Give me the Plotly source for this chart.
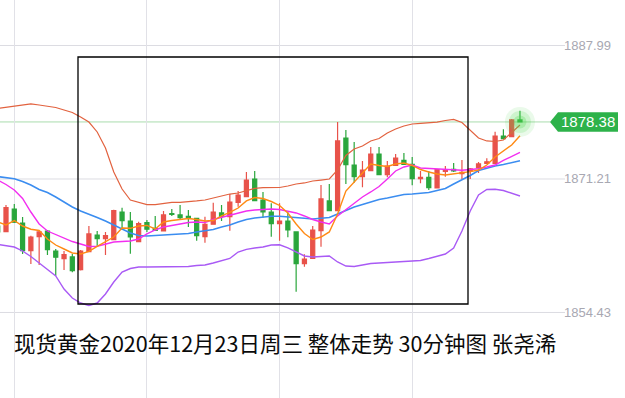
import plotly.graph_objects as go

# ---------------- data (30-minute candles) ----------------
idx = list(range(-1, 63))

opens = [1865.30, 1864.59, 1867.44, 1865.68, 1862.20, 1863.96, 1864.67, 1862.16, 1861.19, 1861.41,
         1859.81, 1862.07, 1864.17, 1863.71, 1863.58, 1867.06, 1865.93, 1863.33, 1865.72, 1864.99,
         1864.67, 1866.87, 1866.69, 1866.52, 1866.27, 1863.96, 1865.52, 1866.94, 1866.47, 1868.28,
         1868.99, 1871.21, 1868.57, 1867.06, 1865.59, 1865.93, 1864.55, 1860.56, 1861.24, 1864.71,
         1868.45, 1867.23, 1876.36, 1872.97, 1871.50, 1872.25, 1874.35, 1871.75, 1872.93, 1873.56,
         1873.06, 1871.25, 1871.42, 1870.08, 1872.18, 1872.43, 1871.88, 1872.22, 1872.59, 1873.18,
         1873.18, 1876.61, 1876.53, 1878.63]
highs = [1865.80, 1867.94, 1868.07, 1866.43, 1864.08, 1864.67, 1864.80, 1862.41, 1862.16, 1861.78,
         1862.29, 1865.30, 1864.67, 1864.55, 1867.35, 1867.60, 1867.06, 1865.84, 1866.06, 1866.56,
         1867.19, 1867.44, 1867.94, 1867.31, 1866.31, 1866.47, 1868.23, 1867.94, 1869.32, 1869.70,
         1872.09, 1872.22, 1869.58, 1868.16, 1868.16, 1867.02, 1864.61, 1861.75, 1865.30, 1870.46,
         1870.58, 1878.37, 1877.37, 1875.86, 1873.47, 1875.23, 1875.23, 1873.47, 1874.35, 1874.48,
         1873.98, 1872.22, 1872.22, 1872.40, 1872.84, 1873.22, 1873.60, 1872.59, 1873.35, 1873.81,
         1877.16, 1877.46, 1878.75, 1879.80]
lows = [1864.17, 1864.55, 1865.68, 1861.78, 1860.53, 1860.40, 1861.66, 1859.06, 1859.77, 1859.48,
        1859.71, 1862.03, 1862.70, 1861.66, 1863.54, 1864.80, 1861.82, 1863.29, 1864.55, 1864.67,
        1864.61, 1866.56, 1866.06, 1865.18, 1863.45, 1863.20, 1865.49, 1865.93, 1864.71, 1867.73,
        1868.95, 1868.44, 1866.35, 1863.96, 1863.45, 1863.88, 1857.04, 1860.19, 1861.22, 1862.70,
        1867.19, 1867.19, 1870.58, 1870.75, 1870.17, 1872.22, 1871.71, 1871.42, 1872.91, 1873.03,
        1870.42, 1870.67, 1869.83, 1870.02, 1871.50, 1872.09, 1871.21, 1871.21, 1871.96, 1873.16,
        1873.16, 1876.24, 1876.49, 1878.31]
closes = [1864.55, 1867.60, 1865.77, 1862.20, 1863.92, 1864.55, 1862.32, 1861.37, 1861.70, 1859.68,
          1862.16, 1864.30, 1863.71, 1864.08, 1867.23, 1865.97, 1863.92, 1865.59, 1864.89, 1864.74,
          1866.69, 1866.75, 1866.35, 1866.35, 1864.08, 1865.52, 1867.06, 1866.52, 1868.32, 1869.20,
          1871.08, 1868.48, 1867.06, 1865.59, 1865.93, 1864.80, 1860.56, 1861.15, 1864.80, 1868.70,
          1867.23, 1875.99, 1873.01, 1871.50, 1872.34, 1874.35, 1871.75, 1872.84, 1873.85, 1873.06,
          1871.25, 1871.42, 1870.12, 1872.38, 1872.38, 1872.22, 1872.05, 1872.47, 1873.10, 1873.38,
          1876.61, 1876.28, 1878.63, 1878.38]

boll_upper = [1880.07, 1880.21, 1880.39, 1880.51, 1880.64, 1880.51, 1880.39, 1880.20, 1879.88, 1879.57,
              1879.00, 1878.37, 1877.12, 1875.11, 1872.09, 1869.95, 1868.57, 1868.26, 1868.00, 1868.00,
              1868.13, 1868.26, 1868.28, 1868.32, 1868.45, 1868.57, 1868.82, 1869.07, 1869.32, 1869.45,
              1869.70, 1870.02, 1870.12, 1870.14, 1870.14, 1870.33, 1870.58, 1870.71, 1870.96, 1871.08,
              1871.21, 1872.34, 1874.16, 1874.98, 1875.36, 1875.99, 1876.30, 1876.99, 1877.49, 1877.87,
              1878.12, 1878.19, 1878.25, 1878.37, 1878.56, 1878.71, 1878.31, 1877.37, 1876.36, 1875.99,
              1875.92, 1876.11, 1877.12, 1878.00]
boll_mid = [1871.52, 1871.40, 1871.24, 1870.90, 1870.46, 1869.89, 1869.51, 1868.95, 1868.32, 1867.69,
            1867.19, 1866.81, 1866.37, 1865.93, 1865.43, 1864.93, 1864.42, 1864.11, 1864.05, 1864.11,
            1864.17, 1864.17, 1864.23, 1864.36, 1864.55, 1864.74, 1864.86, 1865.18, 1865.43, 1865.80,
            1866.12, 1866.31, 1866.43, 1866.53, 1866.52, 1866.46, 1866.37, 1866.27, 1866.18, 1866.24,
            1866.37, 1866.81, 1867.25, 1867.69, 1868.00, 1868.32, 1868.63, 1868.82, 1869.01, 1869.26,
            1869.32, 1869.39, 1869.51, 1869.76, 1870.02, 1870.58, 1871.08, 1871.65, 1872.28, 1872.59,
            1872.84, 1873.03, 1873.28, 1873.51]
boll_lower = [1862.98, 1862.85, 1862.66, 1862.16, 1861.47, 1860.65, 1859.83, 1859.02, 1857.38, 1856.25,
              1855.62, 1855.31, 1855.62, 1856.76, 1858.26, 1859.52, 1859.96, 1860.15, 1860.15, 1860.15,
              1860.15, 1860.19, 1860.19, 1860.21, 1860.34, 1860.40, 1860.65, 1860.90, 1861.22, 1862.03,
              1862.37, 1862.54, 1862.66, 1862.91, 1862.94, 1862.54, 1862.03, 1861.53, 1861.41, 1861.47,
              1861.53, 1860.78, 1860.27, 1860.21, 1860.40, 1860.59, 1860.65, 1860.71, 1860.74, 1860.78,
              1860.82, 1860.97, 1861.22, 1861.53, 1861.78, 1862.54, 1864.67, 1867.19, 1869.20, 1869.89,
              1869.92, 1869.76, 1869.39, 1869.07]
ma_short = [1865.80, 1865.43, 1865.99, 1865.30, 1864.89, 1864.74, 1863.67, 1862.91, 1862.41, 1861.91,
            1861.78, 1862.10, 1862.73, 1863.29, 1863.92, 1865.05, 1865.01, 1865.30, 1865.37, 1864.93,
            1865.80, 1865.99, 1866.12, 1866.24, 1866.12, 1865.93, 1865.99, 1866.56, 1867.00, 1867.56,
            1868.45, 1868.88, 1868.76, 1868.38, 1867.88, 1866.94, 1865.55, 1864.36, 1863.61, 1863.92,
            1864.55, 1866.81, 1869.70, 1870.83, 1872.09, 1873.10, 1872.91, 1872.78, 1873.10, 1873.22,
            1872.91, 1872.40, 1872.09, 1871.84, 1871.71, 1871.84, 1871.93, 1872.13, 1872.34, 1872.97,
            1873.98, 1874.73, 1875.48, 1876.65]
ma_long = [1871.08, 1870.52, 1869.83, 1868.76, 1867.06, 1865.55, 1864.67, 1864.23, 1863.79, 1863.35,
           1863.04, 1862.73, 1862.75, 1863.04, 1863.29, 1863.35, 1863.42, 1863.67, 1864.30, 1864.80,
           1865.18, 1865.37, 1865.55, 1865.74, 1865.80, 1865.74, 1866.12, 1866.37, 1866.69, 1866.94,
           1867.19, 1867.31, 1867.40, 1867.44, 1867.38, 1867.19, 1866.94, 1866.56, 1866.12, 1865.80,
           1865.55, 1866.56, 1867.38, 1868.13, 1868.95, 1869.58, 1870.27, 1871.21, 1872.22, 1872.72,
           1872.97, 1872.59, 1872.53, 1872.40, 1872.34, 1872.34, 1872.30, 1872.40, 1872.50, 1872.72,
           1872.97, 1873.54, 1874.04, 1874.57]

axis_levels = [1887.99, 1871.21, 1854.43]
axis_labels = ["1887.99", "1871.21", "1854.43"]
last_price = 1878.38
last_label = "1878.38"
grid_idx = [1, 17, 33, 49]
caption = "现货黄金2020年12月23日周三 整体走势 30分钟图 张尧浠"

# ---------------- styling ----------------
RED = "#e8524a"
GREEN = "#2aa63c"
X_RANGE = [-0.724, 74.67]
Y_RANGE = [1843.68, 1893.71]
W, H = 625, 398
px_per_price = H / (Y_RANGE[1] - Y_RANGE[0])

fig = go.Figure()

fig.add_trace(go.Candlestick(
    x=idx, open=opens, high=highs, low=lows, close=closes,
    increasing=dict(line=dict(color=RED, width=1.2), fillcolor=RED),
    decreasing=dict(line=dict(color=GREEN, width=1.2), fillcolor=GREEN),
    whiskerwidth=0, showlegend=False, hoverinfo="skip"))

for series, color, width in [
    (boll_upper, "#e2623f", 1.2),
    (boll_lower, "#a95af5", 1.4),
    (boll_mid, "#3b8df0", 1.6),
    (ma_long, "#f22ef0", 1.4),
    (ma_short, "#ff8a14", 1.4),
]:
    fig.add_trace(go.Scatter(x=idx, y=series, mode="lines",
                             line=dict(color=color, width=width),
                             hoverinfo="skip", showlegend=False))

# glow at the last candle
for size, alpha in [(30, 0.12), (22, 0.18), (13, 0.28)]:
    fig.add_trace(go.Scatter(x=[idx[-1]], y=[last_price], mode="markers",
                             marker=dict(size=size, color=f"rgba(80,215,80,{alpha})", line=dict(width=0)),
                             hoverinfo="skip", showlegend=False))

shapes = []
for lv in axis_levels:
    shapes.append(dict(type="line", xref="paper", yref="y", x0=0, x1=565 / W, y0=lv, y1=lv,
                       line=dict(color="#dcdce2", width=1), layer="below"))
# current price line
shapes.append(dict(type="line", xref="paper", yref="y", x0=0, x1=550 / W, y0=last_price, y1=last_price,
                   line=dict(color="#a9dcae", width=1), layer="below"))
# price tag
hh = 9.8 / px_per_price
tip, left, right = 550 / W, 558 / W, 618 / W
shapes.append(dict(type="path", xref="paper", yref="y",
                   path=f"M {tip},{last_price} L {left},{last_price + hh} L {right},{last_price + hh} "
                        f"L {right},{last_price - hh} L {left},{last_price - hh} Z",
                   fillcolor="#2db24a", line=dict(width=0)))
# highlight rectangle
shapes.append(dict(type="rect", xref="paper", yref="paper",
                   x0=78 / W, x1=468 / W, y0=1 - 304 / H, y1=1 - 57 / H,
                   line=dict(color="#000000", width=1.3), fillcolor="rgba(0,0,0,0)"))

annotations = []
for lv, lab in zip(axis_levels, axis_labels):
    annotations.append(dict(x=613 / W, xref="paper", y=lv, yref="y", text=lab, showarrow=False,
                            xanchor="right", yanchor="middle",
                            font=dict(family="Liberation Sans, Arial", size=13, color="#a8a8b2")))
annotations.append(dict(x=(left + right) / 2, xref="paper", y=last_price, yref="y", text=last_label,
                        showarrow=False, xanchor="center", yanchor="middle",
                        font=dict(family="Liberation Sans, Arial", size=15, color="#ffffff")))
annotations.append(dict(x=12 / W, xref="paper", y=1 - 342 / H, yref="paper", text=caption,
                        showarrow=False, xanchor="left", yanchor="middle",
                        font=dict(family="Noto Sans CJK SC", size=21.5, color="#0a0a0a")))

fig.update_layout(
    width=W, height=H, margin=dict(l=0, r=0, t=0, b=0),
    paper_bgcolor="#ffffff", plot_bgcolor="#ffffff",
    shapes=shapes, annotations=annotations, showlegend=False,
    xaxis=dict(range=X_RANGE, tickvals=grid_idx, showgrid=True, gridcolor="#e1e1e7", gridwidth=1,
               showticklabels=False, ticks="", zeroline=False, showline=False,
               rangeslider=dict(visible=False), fixedrange=True),
    yaxis=dict(range=Y_RANGE, showgrid=False, showticklabels=False, ticks="", zeroline=False,
               showline=False, fixedrange=True),
)

fig.write_html("out.html", config={"displayModeBar": False},
               post_script="document.body.style.margin='0';document.body.style.overflow='hidden';")
